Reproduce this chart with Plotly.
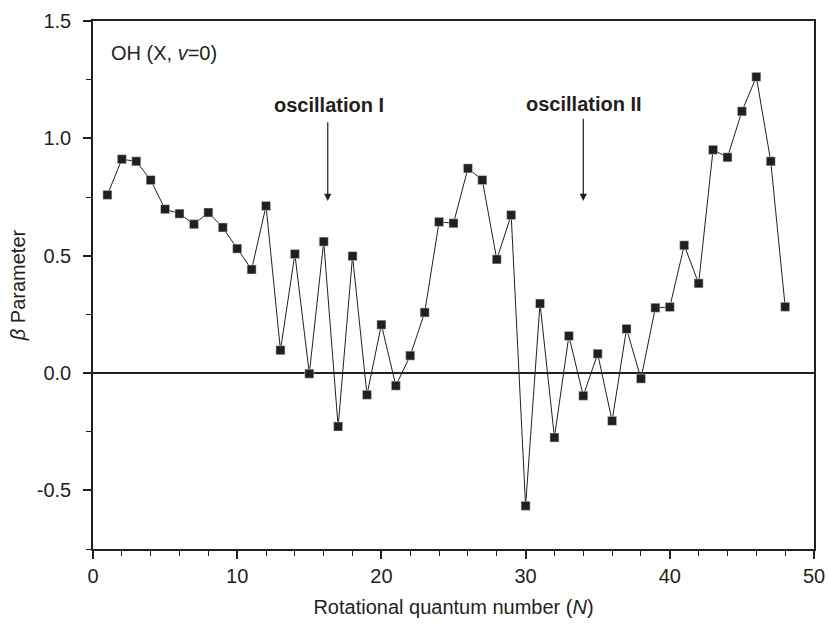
import plotly.graph_objects as go

N = list(range(1, 49))
beta = [0.759, 0.911, 0.902, 0.822, 0.698, 0.679, 0.634, 0.684, 0.620, 0.530,
        0.441, 0.712, 0.097, 0.507, -0.003, 0.560, -0.228, 0.498, -0.093, 0.206,
        -0.054, 0.074, 0.258, 0.644, 0.638, 0.872, 0.822, 0.484, 0.673, -0.566,
        0.296, -0.275, 0.158, -0.097, 0.082, -0.204, 0.188, -0.024, 0.278, 0.281,
        0.544, 0.382, 0.951, 0.919, 1.115, 1.262, 0.902, 0.282]

y_tickvals = [-0.5, 0.0, 0.5, 1.0, 1.5]
y_ticktext = ["-0.5", "0.0", "0.5", "1.0", "1.5"]
y_minor = [-0.75, -0.25, 0.25, 0.75, 1.25]

ink = "#231f20"
FONT = "Liberation Sans, Arial, sans-serif"
FS = 20

fig = go.Figure()
fig.add_trace(go.Scatter(
    x=N, y=beta, mode="lines+markers",
    line=dict(color=ink, width=1),
    marker=dict(symbol="square", size=9, color=ink, line=dict(color="#dddddd", width=0.5)),
    showlegend=False, cliponaxis=False,
))

fig.add_annotation(x=1.1, y=1.365, xref="x", yref="y", text="OH (X, <i>v</i>=0)",
                   showarrow=False, xanchor="left", yanchor="middle",
                   font=dict(family=FONT, size=FS, color=ink))
fig.add_annotation(x=16.35, y=1.14, xref="x", yref="y", text="<b>oscillation I</b>",
                   showarrow=False, xanchor="center", yanchor="middle",
                   font=dict(family=FONT, size=FS, color=ink))
fig.add_annotation(x=34.05, y=1.147, xref="x", yref="y", text="<b>oscillation II</b>",
                   showarrow=False, xanchor="center", yanchor="middle",
                   font=dict(family=FONT, size=FS, color=ink))
for xa, ytop in [(16.28, 1.075), (34.0, 1.09)]:
    fig.add_annotation(x=xa, y=0.733, ax=xa, ay=ytop, xref="x", yref="y",
                       axref="x", ayref="y", text="", showarrow=True,
                       arrowhead=2, arrowsize=1.2, arrowwidth=1.2, arrowcolor=ink)

fig.update_layout(
    width=827, height=631,
    margin=dict(l=93, r=13, t=21, b=82, autoexpand=False),
    paper_bgcolor="white", plot_bgcolor="white",
    font=dict(family=FONT, size=FS, color=ink),
)
fig.update_xaxes(
    range=[0, 50], dtick=10, tick0=0, automargin=False, ticklabeloverflow="allow",
    ticks="outside", ticklen=8, tickwidth=1.5, tickcolor=ink,
    minor=dict(dtick=2, tick0=0, ticks="outside", ticklen=5, tickwidth=1.2, tickcolor=ink, showgrid=False),
    showline=True, linecolor=ink, linewidth=1.5, mirror=True,
    showgrid=False, zeroline=False,
    title=dict(text="Rotational quantum number (<i>N</i>)", standoff=14,
               font=dict(family=FONT, size=FS, color=ink)),
    tickfont=dict(family=FONT, size=FS, color=ink),
)
fig.update_yaxes(
    range=[-0.75, 1.5], tickvals=y_tickvals, ticktext=y_ticktext, automargin=False,
    ticks="outside", ticklen=8, tickwidth=1.5, tickcolor=ink,
    minor=dict(tickvals=y_minor, ticks="outside", ticklen=5, tickwidth=1.2, tickcolor=ink, showgrid=False),
    showline=True, linecolor=ink, linewidth=1.5, mirror=True,
    showgrid=False, zeroline=True, zerolinecolor=ink, zerolinewidth=1.8,
    ticklabelstandoff=8,
    title=dict(text="<i>β</i> Parameter", standoff=6,
               font=dict(family=FONT, size=FS, color=ink)),
    tickfont=dict(family=FONT, size=FS, color=ink),
)

fig.write_html("out.html")
